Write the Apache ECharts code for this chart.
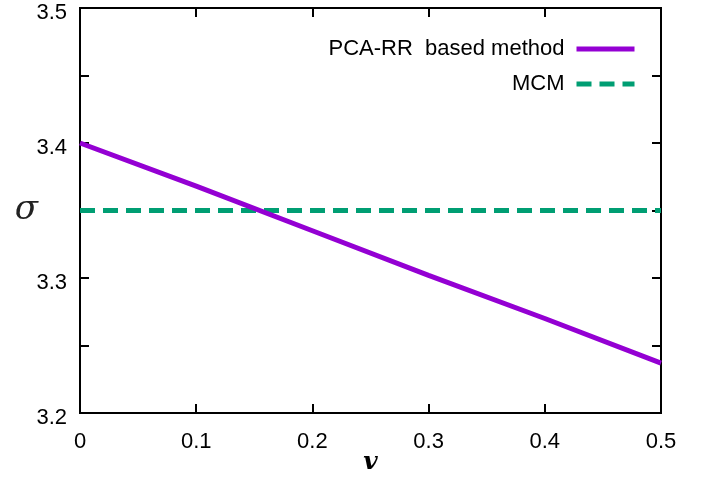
<!DOCTYPE html>
<html>
<head>
<meta charset="utf-8">
<script src="https://cdn.jsdelivr.net/npm/echarts@6/dist/echarts.min.js"></script>
<style>html,body{margin:0;padding:0;background:#fff;}#c{width:710px;height:477px;}</style>
</head>
<body>
<div id="c"></div>
<script>
const vValues = [0, 0.1, 0.2, 0.3, 0.4, 0.5];
const pcaRR = [3.400, 3.368, 3.335, 3.302, 3.270, 3.237];
const mcm = [3.35, 3.35, 3.35, 3.35, 3.35, 3.35];
const seriesNames = ['PCA-RR  based method', 'MCM'];
const xTicks = [0, 0.1, 0.2, 0.3, 0.4, 0.5];
const yTicks = [3.2, 3.3, 3.4, 3.5];

const chart = echarts.init(document.getElementById('c'));
const font = 'Liberation Sans, Arial, sans-serif';
const tickStyle = {show: true, inside: true, length: 9, lineStyle: {color: '#000', width: 2}};
const lineAxis = {show: true, onZero: false, lineStyle: {color: '#000', width: 2}};
chart.setOption({
  animation: false,
  grid: {left: 80, right: 49, top: 8, bottom: 64, show: true, borderColor: '#000', borderWidth: 2,
    containLabel: false, outerBoundsMode: 'none'},
  legend: {
    orient: 'vertical', align: 'right', right: 68, top: 33,
    itemWidth: 58, itemHeight: 20, itemGap: 13,
    lineStyle: {width: 5},
    itemStyle: {color: 'transparent', borderColor: 'transparent', borderWidth: 0, opacity: 0},
    textStyle: {fontFamily: font, fontSize: 22, color: '#000', padding: [0, 7, 0, 0]},
    data: seriesNames
  },
  xAxis: [{
    type: 'value', min: 0, max: 0.5, interval: 0.1,
    name: 'v', nameLocation: 'middle', nameGap: 37, nameMoveOverlap: false,
    nameTextStyle: {fontFamily: 'DejaVu Serif, serif', fontStyle: 'italic', fontWeight: 'bold', fontSize: 25, color: '#000'},
    axisLine: lineAxis, axisTick: tickStyle, splitLine: {show: false},
    axisLabel: {margin: 18, fontFamily: font, fontSize: 22, color: '#000',
      formatter: v => { const t = xTicks.find(k => Math.abs(k - v) < 1e-9); return t === undefined ? '' : String(t); }}
  }, {
    type: 'value', position: 'top', min: 0, max: 0.5, interval: 0.1,
    axisLine: lineAxis, axisTick: tickStyle, axisLabel: {show: false}, splitLine: {show: false}
  }],
  yAxis: [{
    type: 'value', min: 3.2, max: 3.5, interval: 0.05,
    name: 'σ', nameLocation: 'middle', nameGap: 42, nameRotate: 0, nameMoveOverlap: false,
    nameTextStyle: {fontFamily: 'DejaVu Serif, serif', fontStyle: 'italic', fontSize: 34, color: '#222'},
    axisLine: lineAxis, axisTick: tickStyle, splitLine: {show: false},
    axisLabel: {margin: 13, fontFamily: font, fontSize: 22, color: '#000',
      rich: {s: {fontSize: 4, lineHeight: 10}, a: {fontFamily: font, fontSize: 22, lineHeight: 22, color: '#000'}},
      formatter: v => { const t = yTicks.find(k => Math.abs(k - v) < 1e-9); return t === undefined ? '' : '{s| }\n{a|' + t.toFixed(1) + '}'; }}
  }, {
    type: 'value', position: 'right', min: 3.2, max: 3.5, interval: 0.05,
    axisLine: lineAxis, axisTick: tickStyle, axisLabel: {show: false}, splitLine: {show: false}
  }],
  series: [{
    name: seriesNames[0], type: 'line', showSymbol: false, symbol: 'none',
    data: vValues.map((x, i) => [x, pcaRR[i]]),
    lineStyle: {color: '#9400D3', width: 5}, itemStyle: {color: '#9400D3'}, z: 3
  }, {
    name: seriesNames[1], type: 'line', showSymbol: false, symbol: 'none',
    data: vValues.map((x, i) => [x, mcm[i]]),
    lineStyle: {color: '#009E73', width: 5, type: [15, 8]}, itemStyle: {color: '#009E73'}, z: 2
  }]
});
</script>
</body>
</html>
